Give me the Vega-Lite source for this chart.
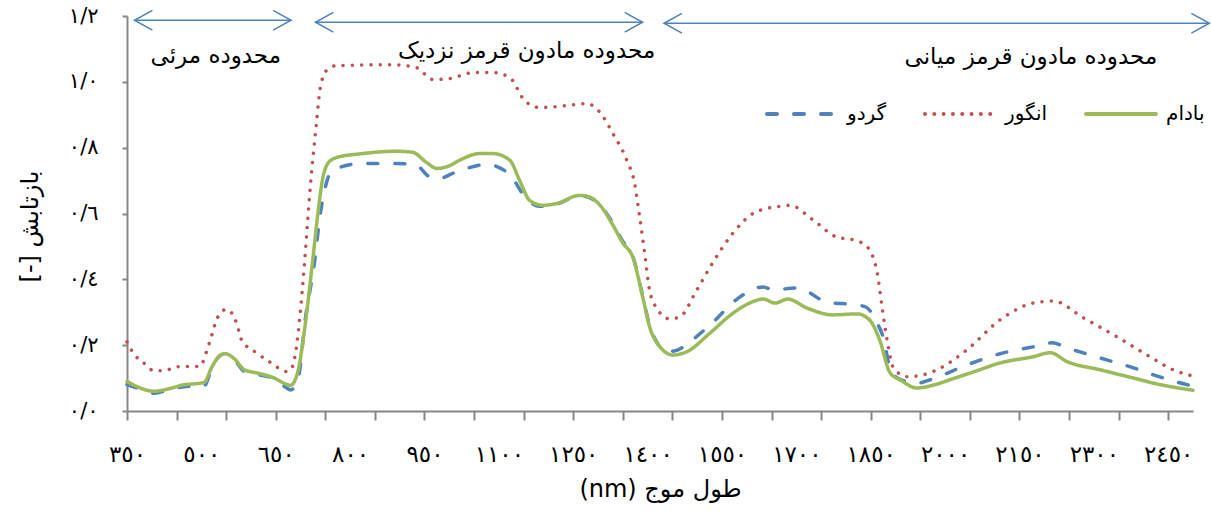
{
  "$schema": "https://vega.github.io/schema/vega-lite/v6.json",
  "width": 1066,
  "height": 395,
  "autosize": {"type": "none"},
  "padding": {"left": 127, "top": 16, "right": 18, "bottom": 100},
  "background": "white",
  "config": {"view": {"stroke": null}, "font": "DejaVu Sans"},
  "resolve": {"axis": {"x": "independent"}},
  "datasets": {
    "spectra": [
      {"s":"گردو","wl":350,"v":0.08},{"s":"گردو","wl":370,"v":0.07},{"s":"گردو","wl":405,"v":0.054},{"s":"گردو","wl":436,"v":0.065},{"s":"گردو","wl":466,"v":0.074},{"s":"گردو","wl":506,"v":0.077},{"s":"گردو","wl":520,"v":0.125},{"s":"گردو","wl":535,"v":0.165},{"s":"گردو","wl":548,"v":0.174},{"s":"گردو","wl":567,"v":0.155},{"s":"گردو","wl":587,"v":0.12},{"s":"گردو","wl":617,"v":0.11},{"s":"گردو","wl":647,"v":0.098},{"s":"گردو","wl":670,"v":0.072},{"s":"گردو","wl":680,"v":0.064},{"s":"گردو","wl":690,"v":0.078},{"s":"گردو","wl":698,"v":0.12},{"s":"گردو","wl":708,"v":0.26},{"s":"گردو","wl":728,"v":0.45},{"s":"گردو","wl":740,"v":0.6},{"s":"گردو","wl":750,"v":0.68},{"s":"گردو","wl":759,"v":0.72},{"s":"گردو","wl":779,"v":0.74},{"s":"گردو","wl":825,"v":0.752},{"s":"گردو","wl":893,"v":0.752},{"s":"گردو","wl":934,"v":0.746},{"s":"گردو","wl":960,"v":0.712},{"s":"گردو","wl":981,"v":0.707},{"s":"گردو","wl":1007,"v":0.722},{"s":"گردو","wl":1035,"v":0.737},{"s":"گردو","wl":1075,"v":0.749},{"s":"گردو","wl":1095,"v":0.743},{"s":"گردو","wl":1128,"v":0.707},{"s":"گردو","wl":1148,"v":0.66},{"s":"گردو","wl":1182,"v":0.622},{"s":"گردو","wl":1216,"v":0.628},{"s":"گردو","wl":1263,"v":0.655},{"s":"گردو","wl":1283,"v":0.648},{"s":"گردو","wl":1304,"v":0.625},{"s":"گردو","wl":1330,"v":0.57},{"s":"گردو","wl":1350,"v":0.515},{"s":"گردو","wl":1370,"v":0.47},{"s":"گردو","wl":1390,"v":0.35},{"s":"گردو","wl":1404,"v":0.26},{"s":"گردو","wl":1420,"v":0.205},{"s":"گردو","wl":1438,"v":0.18},{"s":"گردو","wl":1460,"v":0.185},{"s":"گردو","wl":1485,"v":0.21},{"s":"گردو","wl":1532,"v":0.27},{"s":"گردو","wl":1583,"v":0.343},{"s":"گردو","wl":1633,"v":0.377},{"s":"گردو","wl":1653,"v":0.368},{"s":"گردو","wl":1701,"v":0.374},{"s":"گردو","wl":1762,"v":0.331},{"s":"گردو","wl":1822,"v":0.322},{"s":"گردو","wl":1840,"v":0.316},{"s":"گردو","wl":1863,"v":0.267},{"s":"گردو","wl":1875,"v":0.225},{"s":"گردو","wl":1890,"v":0.125},{"s":"گردو","wl":1910,"v":0.095},{"s":"گردو","wl":1945,"v":0.085},{"s":"گردو","wl":1970,"v":0.095},{"s":"گردو","wl":2044,"v":0.14},{"s":"گردو","wl":2111,"v":0.174},{"s":"گردو","wl":2178,"v":0.195},{"s":"گردو","wl":2216,"v":0.207},{"s":"گردو","wl":2246,"v":0.192},{"s":"گردو","wl":2313,"v":0.161},{"s":"گردو","wl":2380,"v":0.131},{"s":"گردو","wl":2420,"v":0.11},{"s":"گردو","wl":2488,"v":0.08},{"s":"گردو","wl":2500,"v":0.076},
      {"s":"انگور","wl":350,"v":0.21},{"s":"انگور","wl":365,"v":0.171},{"s":"انگور","wl":381,"v":0.15},{"s":"انگور","wl":405,"v":0.122},{"s":"انگور","wl":422,"v":0.122},{"s":"انگور","wl":456,"v":0.135},{"s":"انگور","wl":496,"v":0.135},{"s":"انگور","wl":516,"v":0.206},{"s":"انگور","wl":533,"v":0.285},{"s":"انگور","wl":551,"v":0.309},{"s":"انگور","wl":571,"v":0.267},{"s":"انگور","wl":581,"v":0.216},{"s":"انگور","wl":611,"v":0.177},{"s":"انگور","wl":641,"v":0.146},{"s":"انگور","wl":672,"v":0.12},{"s":"انگور","wl":680,"v":0.125},{"s":"انگور","wl":688,"v":0.16},{"s":"انگور","wl":698,"v":0.277},{"s":"انگور","wl":708,"v":0.45},{"s":"انگور","wl":718,"v":0.65},{"s":"انگور","wl":725,"v":0.77},{"s":"انگور","wl":732,"v":0.873},{"s":"انگور","wl":739,"v":0.974},{"s":"انگور","wl":752,"v":1.034},{"s":"انگور","wl":772,"v":1.049},{"s":"انگور","wl":886,"v":1.052},{"s":"انگور","wl":934,"v":1.043},{"s":"انگور","wl":967,"v":1.007},{"s":"انگور","wl":1001,"v":1.01},{"s":"انگور","wl":1048,"v":1.028},{"s":"انگور","wl":1088,"v":1.028},{"s":"انگور","wl":1122,"v":1.013},{"s":"انگور","wl":1152,"v":0.943},{"s":"انگور","wl":1182,"v":0.922},{"s":"انگور","wl":1237,"v":0.928},{"s":"انگور","wl":1277,"v":0.934},{"s":"انگور","wl":1304,"v":0.907},{"s":"انگور","wl":1330,"v":0.843},{"s":"انگور","wl":1358,"v":0.762},{"s":"انگور","wl":1374,"v":0.69},{"s":"انگور","wl":1384,"v":0.59},{"s":"انگور","wl":1394,"v":0.48},{"s":"انگور","wl":1404,"v":0.367},{"s":"انگور","wl":1418,"v":0.313},{"s":"انگور","wl":1444,"v":0.28},{"s":"انگور","wl":1465,"v":0.286},{"s":"انگور","wl":1499,"v":0.367},{"s":"انگور","wl":1532,"v":0.452},{"s":"انگور","wl":1572,"v":0.54},{"s":"انگور","wl":1616,"v":0.603},{"s":"انگور","wl":1667,"v":0.622},{"s":"انگور","wl":1687,"v":0.625},{"s":"انگور","wl":1734,"v":0.58},{"s":"انگور","wl":1782,"v":0.528},{"s":"انگور","wl":1815,"v":0.52},{"s":"انگور","wl":1842,"v":0.5},{"s":"انگور","wl":1863,"v":0.42},{"s":"انگور","wl":1873,"v":0.316},{"s":"انگور","wl":1883,"v":0.216},{"s":"انگور","wl":1895,"v":0.134},{"s":"انگور","wl":1923,"v":0.104},{"s":"انگور","wl":1976,"v":0.12},{"s":"انگور","wl":2044,"v":0.186},{"s":"انگور","wl":2111,"v":0.277},{"s":"انگور","wl":2178,"v":0.328},{"s":"انگور","wl":2218,"v":0.334},{"s":"انگور","wl":2279,"v":0.283},{"s":"انگور","wl":2347,"v":0.225},{"s":"انگور","wl":2413,"v":0.165},{"s":"انگور","wl":2460,"v":0.125},{"s":"انگور","wl":2498,"v":0.107},
      {"s":"بادام","wl":350,"v":0.09},{"s":"بادام","wl":370,"v":0.074},{"s":"بادام","wl":405,"v":0.06},{"s":"بادام","wl":436,"v":0.068},{"s":"بادام","wl":466,"v":0.08},{"s":"بادام","wl":490,"v":0.083},{"s":"بادام","wl":506,"v":0.087},{"s":"بادام","wl":520,"v":0.13},{"s":"بادام","wl":535,"v":0.165},{"s":"بادام","wl":548,"v":0.174},{"s":"بادام","wl":567,"v":0.158},{"s":"بادام","wl":587,"v":0.125},{"s":"بادام","wl":617,"v":0.114},{"s":"بادام","wl":647,"v":0.1},{"s":"بادام","wl":670,"v":0.082},{"s":"بادام","wl":680,"v":0.078},{"s":"بادام","wl":694,"v":0.116},{"s":"بادام","wl":708,"v":0.246},{"s":"بادام","wl":724,"v":0.45},{"s":"بادام","wl":735,"v":0.6},{"s":"بادام","wl":744,"v":0.7},{"s":"بادام","wl":755,"v":0.752},{"s":"بادام","wl":773,"v":0.77},{"s":"بادام","wl":825,"v":0.782},{"s":"بادام","wl":893,"v":0.789},{"s":"بادام","wl":926,"v":0.786},{"s":"بادام","wl":954,"v":0.755},{"s":"بادام","wl":975,"v":0.737},{"s":"بادام","wl":997,"v":0.743},{"s":"بادام","wl":1021,"v":0.762},{"s":"بادام","wl":1061,"v":0.782},{"s":"بادام","wl":1088,"v":0.782},{"s":"بادام","wl":1122,"v":0.762},{"s":"بادام","wl":1142,"v":0.7},{"s":"بادام","wl":1162,"v":0.64},{"s":"بادام","wl":1188,"v":0.625},{"s":"بادام","wl":1216,"v":0.63},{"s":"بادام","wl":1263,"v":0.655},{"s":"بادام","wl":1283,"v":0.65},{"s":"بادام","wl":1304,"v":0.625},{"s":"بادام","wl":1330,"v":0.565},{"s":"بادام","wl":1350,"v":0.51},{"s":"بادام","wl":1370,"v":0.468},{"s":"بادام","wl":1390,"v":0.347},{"s":"بادام","wl":1404,"v":0.256},{"s":"بادام","wl":1425,"v":0.195},{"s":"بادام","wl":1451,"v":0.17},{"s":"بادام","wl":1479,"v":0.18},{"s":"بادام","wl":1526,"v":0.237},{"s":"بادام","wl":1572,"v":0.297},{"s":"بادام","wl":1606,"v":0.328},{"s":"بادام","wl":1633,"v":0.34},{"s":"بادام","wl":1657,"v":0.328},{"s":"بادام","wl":1683,"v":0.34},{"s":"بادام","wl":1721,"v":0.313},{"s":"بادام","wl":1774,"v":0.292},{"s":"بادام","wl":1822,"v":0.295},{"s":"بادام","wl":1848,"v":0.276},{"s":"بادام","wl":1868,"v":0.216},{"s":"بادام","wl":1889,"v":0.116},{"s":"بادام","wl":1909,"v":0.095},{"s":"بادام","wl":1943,"v":0.07},{"s":"بادام","wl":1980,"v":0.08},{"s":"بادام","wl":2010,"v":0.095},{"s":"بادام","wl":2060,"v":0.12},{"s":"بادام","wl":2111,"v":0.146},{"s":"بادام","wl":2178,"v":0.165},{"s":"بادام","wl":2212,"v":0.177},{"s":"بادام","wl":2246,"v":0.15},{"s":"بادام","wl":2313,"v":0.125},{"s":"بادام","wl":2380,"v":0.1},{"s":"بادام","wl":2434,"v":0.08},{"s":"بادام","wl":2470,"v":0.07},{"s":"بادام","wl":2500,"v":0.063}
    ],
    "arrows": [
      {"a": 365, "b": 681, "y": 1.187},
      {"a": 730, "b": 1390, "y": 1.181},
      {"a": 1433, "b": 2533, "y": 1.178}
    ],
    "regions": [
      {"x": 529, "y": 1.08, "label": "محدوده مرئی"},
      {"x": 1156, "y": 1.095, "label": "محدوده مادون قرمز نزدیک"},
      {"x": 2173, "y": 1.074, "label": "محدوده مادون قرمز میانی"}
    ]
  },
  "layer": [
    {
      "data": {"name": "spectra"},
      "mark": {"type": "line", "interpolate": "monotone", "strokeWidth": 3.5, "strokeCap": "round", "strokeJoin": "round"},
      "encoding": {
        "x": {
          "field": "wl", "type": "quantitative",
          "scale": {"domain": [350, 2500], "nice": false, "zero": false},
          "axis": {
            "orient": "bottom",
            "values": [350,450,550,650,750,850,950,1050,1150,1250,1350,1450,1550,1650,1750,1850,1950,2050,2150,2250,2350,2450],
            "labels": false,
            "title": "(nm) طول موج",
            "titleFontSize": 24, "titleFontWeight": "normal", "titleColor": "black", "titlePadding": 56,
            "tickSize": 9, "tickWidth": 2, "tickColor": "#868686",
            "domainColor": "#868686", "domainWidth": 2, "grid": false
          }
        },
        "y": {
          "field": "v", "type": "quantitative",
          "scale": {"domain": [0, 1.2], "nice": false},
          "axis": {
            "values": [0, 0.2, 0.4, 0.6, 0.8, 1.0, 1.2],
            "title": "[-] بازتابش",
            "titleFontSize": 24, "titleFontWeight": "normal", "titleColor": "black", "titlePadding": 26, "titleY": 210,
            "labelFontSize": 21, "labelColor": "black", "labelPadding": 24,
            "labelExpr": "replace(replace(replace(replace(replace(replace(replace(format(datum.value, '.1f'), '.', '/'), regexp('0','g'), '٠'), regexp('1','g'), '١'), regexp('2','g'), '٢'), regexp('4','g'), '٤'), regexp('6','g'), '٦'), regexp('8','g'), '٨')",
            "tickSize": 5, "tickWidth": 2, "tickColor": "#868686",
            "domainColor": "#868686", "domainWidth": 2, "grid": false
          }
        },
        "color": {
          "field": "s", "type": "nominal",
          "scale": {"domain": ["گردو", "انگور", "بادام"], "range": ["#4F81BD", "#C0504D", "#9BBB59"]},
          "legend": {
            "orient": "none", "legendX": 638, "legendY": 61, "direction": "horizontal", "title": null,
            "symbolType": "stroke", "symbolSize": 4900, "symbolStrokeWidth": 4,
            "labelFontSize": 20, "labelFont": "DejaVu Sans", "labelColor": "black", "labelOffset": 8,
            "columnPadding": 30, "padding": 0,
            "encode": {"symbols": {"update": {"strokeCap": {"value": "round"}}}}
          }
        },
        "strokeDash": {
          "field": "s", "type": "nominal",
          "scale": {"domain": ["گردو", "انگور", "بادام"], "range": [[10, 17], [0.01, 9.3], [1, 0]]},
          "legend": {
            "orient": "none", "legendX": 638, "legendY": 61, "direction": "horizontal", "title": null,
            "symbolType": "stroke", "symbolSize": 4900, "symbolStrokeWidth": 4,
            "labelFontSize": 20, "labelFont": "DejaVu Sans", "labelColor": "black", "labelOffset": 8,
            "columnPadding": 30, "padding": 0,
            "encode": {"symbols": {"update": {"strokeCap": {"value": "round"}}}}
          }
        }
      }
    },
    {
      "data": {"name": "arrows"},
      "mark": {"type": "rule", "color": "#4F81BD", "strokeWidth": 1.5},
      "encoding": {
        "x": {"field": "a", "type": "quantitative", "axis": null},
        "x2": {"field": "b"},
        "y": {"field": "y", "type": "quantitative"}
      }
    },
    {
      "data": {"name": "arrows"},
      "mark": {"type": "point", "shape": "M1,-0.55L0,0L1,0.55", "size": 1296, "filled": false, "color": "#4F81BD", "strokeWidth": 1.5, "opacity": 1},
      "encoding": {
        "x": {"field": "a", "type": "quantitative", "axis": null},
        "y": {"field": "y", "type": "quantitative"}
      }
    },
    {
      "data": {"name": "arrows"},
      "mark": {"type": "point", "shape": "M-1,-0.55L0,0L-1,0.55", "size": 1296, "filled": false, "color": "#4F81BD", "strokeWidth": 1.5, "opacity": 1},
      "encoding": {
        "x": {"field": "b", "type": "quantitative", "axis": null},
        "y": {"field": "y", "type": "quantitative"}
      }
    },
    {
      "data": {"name": "regions"},
      "mark": {"type": "text", "fontSize": 23, "font": "DejaVu Sans", "color": "black", "align": "center", "baseline": "middle"},
      "encoding": {
        "x": {
          "field": "x", "type": "quantitative",
          "axis": {
            "orient": "bottom",
            "values": [350,500,650,800,950,1100,1250,1400,1550,1700,1850,2000,2150,2300,2450],
            "title": null, "ticks": false, "tickSize": 0, "domain": false, "grid": false,
            "labelFontSize": 23, "labelColor": "black", "labelPadding": 32, "labelFlush": false, "labelOverlap": false,
            "labelExpr": "replace(replace(replace(replace(replace(replace(replace(replace(replace(replace(toString(datum.value), regexp('0','g'), '٠'), regexp('1','g'), '١'), regexp('2','g'), '٢'), regexp('3','g'), '٣'), regexp('4','g'), '٤'), regexp('5','g'), '٥'), regexp('6','g'), '٦'), regexp('7','g'), '٧'), regexp('8','g'), '٨'), regexp('9','g'), '٩')"
          }
        },
        "y": {"field": "y", "type": "quantitative"},
        "text": {"field": "label"}
      }
    }
  ]
}
